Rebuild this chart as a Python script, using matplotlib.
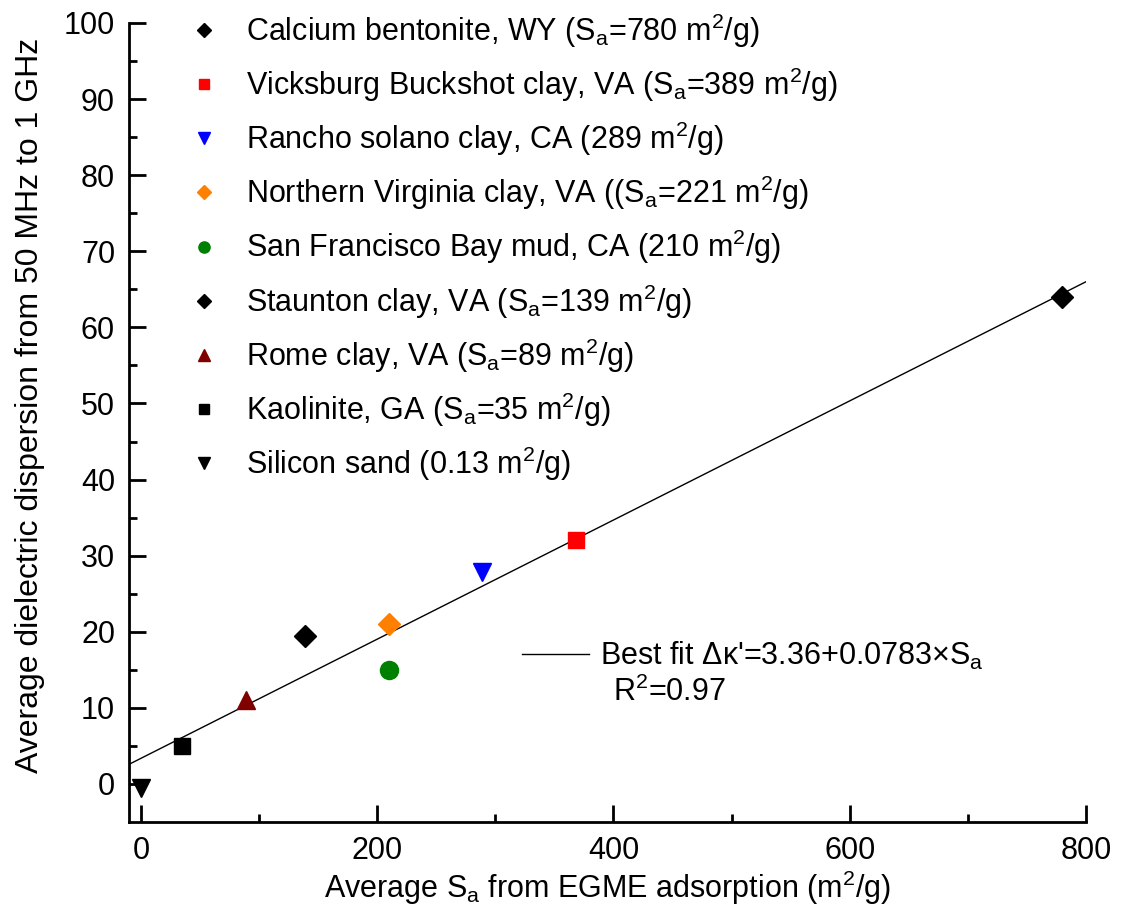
import matplotlib.pyplot as plt
import numpy as np

plt.rcParams['font.family'] = ['Liberation Sans', 'DejaVu Sans']
plt.rcParams['mathtext.fontset'] = 'custom'
plt.rcParams['mathtext.rm'] = 'Liberation Sans'
plt.rcParams['mathtext.it'] = 'Liberation Sans'

# soil samples: surface area (m2/g) vs dielectric dispersion
names = [
    "Calcium bentonite, WY (S$_a$=780 m$^2$/g)",
    "Vicksburg Buckshot clay, VA (S$_a$=389 m$^2$/g)",
    "Rancho solano clay, CA (289 m$^2$/g)",
    "Northern Virginia clay, VA ((S$_a$=221 m$^2$/g)",
    "San Francisco Bay mud, CA (210 m$^2$/g)",
    "Staunton clay, VA (S$_a$=139 m$^2$/g)",
    "Rome clay, VA (S$_a$=89 m$^2$/g)",
    "Kaolinite, GA (S$_a$=35 m$^2$/g)",
    "Silicon sand (0.13 m$^2$/g)",
]
sa = [780, 368, 289, 210, 210, 139, 89, 35, 0.13]
disp = [64, 32, 27.8, 21, 15, 19.5, 11, 5, -0.5]
markers = ['D', 's', 'v', 'D', 'o', 'D', '^', 's', 'v']
colors = ['black', '#ff0000', '#0000ff', '#ff8000', '#008000', 'black', '#800000', 'black', 'black']
sizes = [11, 11, 13, 11, 13, 11, 13, 11, 13]

fit_a, fit_b = 3.36, 0.0783
fit_x = [-10, 800]

fig = plt.figure(figsize=(11.28, 9.14), dpi=100)
ax = fig.add_axes([129/1128, 92/914, (1086-129)/1128, (822-23)/914])

for n, x, y, m, c, s in zip(names, sa, disp, markers, colors, sizes):
    ax.plot(x, y, linestyle='none', marker=m, color=c, markersize=s, label=n, zorder=3)

fx = np.array(fit_x)
fit_line, = ax.plot(fx, fit_a + fit_b * fx, color='black', lw=1)

ax.set_xlim(-10, 800)
ax.set_ylim(-5, 100)
ax.set_xticks([0, 200, 400, 600, 800])
ax.set_xticks([100, 300, 500, 700], minor=True)
ax.set_yticks(range(0, 101, 10))
ax.set_yticks(range(5, 100, 10), minor=True)
for sp in ['top', 'right']:
    ax.spines[sp].set_visible(False)
for sp in ['left', 'bottom']:
    ax.spines[sp].set_linewidth(2)
ax.tick_params(which='major', direction='in', length=12, width=2, labelsize=22, pad=10)
ax.tick_params(which='minor', direction='in', length=6, width=2)

ax.set_xlabel("Average S$_a$ from EGME adsorption (m$^2$/g)", fontsize=22, labelpad=2)
ax.set_ylabel("Average dielectric dispersion from 50 MHz to 1 GHz", fontsize=23)
ax.yaxis.set_label_coords(-0.088, 0.522)

handles, labels = ax.get_legend_handles_labels()
leg1 = ax.legend(handles[:9], labels[:9], loc='upper left',
                 bbox_to_anchor=(173/1128, 1 + 4/914), bbox_transform=fig.transFigure,
                 frameon=False, fontsize=22, markerscale=0.62, handlelength=1.0,
                 handletextpad=0.9, labelspacing=0.52, borderpad=0)
ax.add_artist(leg1)

ax.legend([fit_line], [r"Best fit $\Delta\kappa$'=3.36+0.0783$\times$S$_a$"], loc='upper left',
          bbox_to_anchor=(522/1128, 1 - 640/914), bbox_transform=fig.transFigure,
          frameon=False, fontsize=22, handlelength=2.2, handletextpad=0.35,
          borderpad=0, borderaxespad=0)
fig.text(613/1128, 1 - 701/914, "R$^2$=0.97", fontsize=22)

plt.savefig("out.png", format="PNG")
